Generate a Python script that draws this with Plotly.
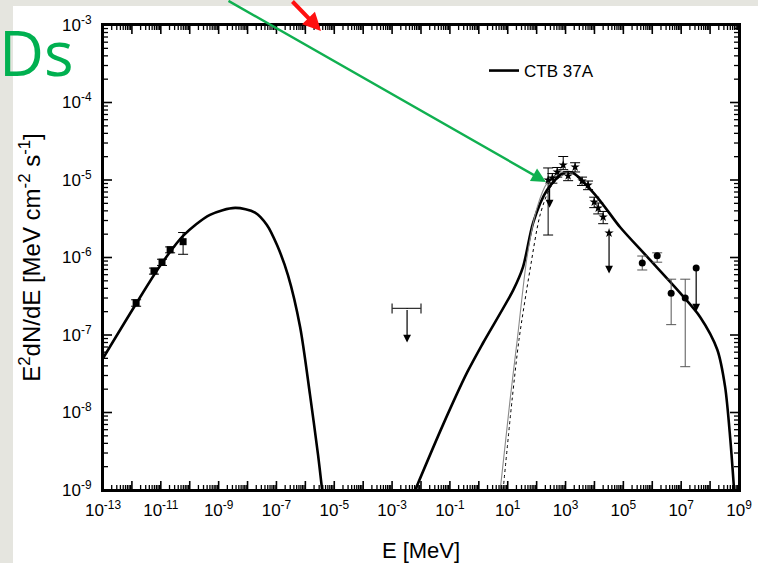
import numpy as np
import plotly.graph_objects as go

# ---- model curves (log10 E [MeV], log10 E^2 dN/dE) ----
sync_logE = [-13.0, -11.86, -11.03, -10.23, -9.30, -8.43, -7.74, -7.33, -6.98, -6.60, -6.18, -5.84, -5.56, -5.42]
sync_logF = [-7.30, -6.60, -6.11, -5.72, -5.45, -5.36, -5.42, -5.58, -5.84, -6.23, -6.90, -7.77, -8.55, -9.00]

ic_logE = [-2.20, -1.24, -0.40, 0.15, 1.19, 1.53, 1.88, 2.36, 2.92, 3.26, 4.09, 4.89, 5.82, 6.97, 7.66, 8.25, 8.52, 8.70, 8.83]
ic_logF = [-9.00, -8.16, -7.48, -7.10, -6.42, -6.12, -5.55, -5.13, -4.91, -4.91, -5.22, -5.61, -5.99, -6.46, -6.77, -7.19, -7.67, -8.35, -9.00]

pi_logE = [0.74, 1.08, 1.33, 1.67, 2.02, 2.36, 2.81, 3.26]
pi_logF = [-9.00, -7.84, -7.06, -5.99, -5.35, -5.04, -4.90, -4.91]

alt_logE = [0.84, 1.15, 1.39, 1.77, 2.12, 2.47, 2.88, 3.26]
alt_logF = [-9.00, -7.84, -7.06, -6.16, -5.45, -5.10, -4.94, -4.91]

# ---- radio / X-ray data ----
radio_E = [1.4e-12, 5.8e-12, 1.1e-11, 2.1e-11, 5.9e-11]
radio_F = [2.6e-7, 6.7e-7, 8.7e-7, 1.26e-6, 1.6e-6]
radio_hi = [0.25e-7, 0.6e-7, 0.8e-7, 1.1e-7, 0.5e-6]
radio_lo = [0.25e-7, 0.6e-7, 0.8e-7, 1.1e-7, 0.5e-6]

# ---- X-ray upper limit (band 1e-3 .. 1e-2 MeV) ----
xul_E = [3.3e-3]
xul_F = [2.2e-7]
xul_lo = [2.3e-3]
xul_hi = [6.7e-3]
xul_tip = [8.0e-8]

# ---- Fermi-LAT points ----
lat_E = [250, 350, 516, 830, 1230, 2140, 3720, 6000, 9800, 13500, 20000]
lat_F = [1.0e-5, 1.06e-5, 1.27e-5, 1.56e-5, 1.13e-5, 1.47e-5, 9.7e-6, 8.6e-6, 5.2e-6, 4.35e-6, 3.33e-6]
lat_hi = [0.43e-5, 0.15e-5, 0.18e-5, 0.45e-5, 0.15e-5, 0.2e-5, 1.2e-6, 1.1e-6, 0.8e-6, 0.7e-6, 0.6e-6]
lat_lo = [0.805e-5, 0.15e-5, 0.18e-5, 0.2e-5, 0.15e-5, 0.2e-5, 1.2e-6, 1.1e-6, 0.8e-6, 0.7e-6, 0.6e-6]

lat_ul_E = [280, 32000]
lat_ul_F = [9.1e-6, 2.07e-6]
lat_ul_tip = [4.4e-6, 6.2e-7]

# ---- HESS points ----
hess_E = [4.5e5, 1.48e6, 4.5e6, 1.38e7]
hess_F = [8.5e-7, 1.05e-6, 3.46e-7, 3.0e-7]
hess_hi = [1.95e-7, 0.1e-6, 1.79e-7, 2.25e-7]
hess_lo = [1.6e-7, 0.18e-6, 2.1e-7, 2.61e-7]
hess_ul_E = [3.3e7]
hess_ul_F = [7.3e-7]
hess_ul_tip = [2.0e-7]

# ---- axis ticks ----
x_decades = list(range(-13, 10))
y_decades = list(range(-9, -2))


def pow10(vals):
    return [10.0 ** v for v in vals]


fig = go.Figure()

# model curve: synchrotron + inverse Compton as one entry
curve_E = pow10(sync_logE) + [None] + pow10(ic_logE)
curve_F = pow10(sync_logF) + [None] + pow10(ic_logF)
fig.add_trace(go.Scatter(x=curve_E, y=curve_F, mode="lines", name="CTB 37A",
                         line=dict(color="black", width=2.6, shape="spline", smoothing=0.8),
                         connectgaps=False))
fig.add_trace(go.Scatter(x=pow10(pi_logE), y=pow10(pi_logF), mode="lines", showlegend=False,
                         line=dict(color="#8a8a8a", width=1.1, shape="spline", smoothing=0.8)))
fig.add_trace(go.Scatter(x=pow10(alt_logE), y=pow10(alt_logF), mode="lines", showlegend=False,
                         line=dict(color="black", width=1, dash="dot", shape="spline", smoothing=0.8)))

fig.add_trace(go.Scatter(x=radio_E, y=radio_F, mode="markers", showlegend=False,
                         marker=dict(symbol="square", size=7, color="black"),
                         error_y=dict(type="data", array=radio_hi, arrayminus=radio_lo,
                                      color="black", thickness=1, width=5)))

fig.add_trace(go.Scatter(x=xul_E, y=xul_F, mode="markers", showlegend=False,
                         marker=dict(size=1, color="black"),
                         error_x=dict(type="data", array=xul_hi, arrayminus=xul_lo,
                                      color="#333333", thickness=1.3, width=5)))

fig.add_trace(go.Scatter(x=lat_E, y=lat_F, mode="markers", showlegend=False,
                         marker=dict(symbol="star", size=7, color="black"),
                         error_y=dict(type="data", array=lat_hi, arrayminus=lat_lo,
                                      color="black", thickness=1, width=5)))

fig.add_trace(go.Scatter(x=hess_E, y=hess_F, mode="markers", showlegend=False,
                         marker=dict(symbol="circle", size=7, color="black"),
                         error_y=dict(type="data", array=hess_hi, arrayminus=hess_lo,
                                      color="#555555", thickness=1, width=5)))
fig.add_trace(go.Scatter(x=hess_ul_E, y=hess_ul_F, mode="markers", showlegend=False,
                         marker=dict(symbol="circle", size=7, color="black")))
fig.add_trace(go.Scatter(x=lat_ul_E[1:], y=lat_ul_F[1:], mode="markers", showlegend=False,
                         marker=dict(symbol="star", size=7, color="black")))

annotations = []
# upper-limit arrows
for e, f, t in zip(xul_E + lat_ul_E + hess_ul_E,
                   xul_F + lat_ul_F + hess_ul_F,
                   xul_tip + lat_ul_tip + hess_ul_tip):
    annotations.append(dict(x=np.log10(e), y=np.log10(t), ax=np.log10(e), ay=np.log10(f),
                            xref="x", yref="y", axref="x", ayref="y", text="",
                            showarrow=True, arrowhead=2, arrowsize=1.3, arrowwidth=1.2,
                            arrowcolor="black"))

L, R, T, B = 103, 19, 25, 73
W, H = 758, 563
pw, ph = W - L - R, H - T - B


def px(xp):
    return (xp - L) / pw


def py(yp):
    return (H - B - yp) / ph


# slide overlays
annotations.append(dict(x=px(-3), y=py(8), xref="paper", yref="paper", text="Ds",
                        showarrow=False, xanchor="left", yanchor="top",
                        font=dict(family="Open Sans", size=62, color="#00b050")))
annotations.append(dict(x=px(546), y=py(182), xref="paper", yref="paper", text="",
                        showarrow=True, ax=-319, ay=-183, axref="pixel", ayref="pixel",
                        arrowhead=2, arrowsize=1.2, arrowwidth=2.4, arrowcolor="#10b050"))
annotations.append(dict(x=px(321), y=py(31), xref="paper", yref="paper", text="",
                        showarrow=True, ax=-30, ay=-34, axref="pixel", ayref="pixel",
                        arrowhead=2, arrowsize=0.9, arrowwidth=4, arrowcolor="#ff1010"))

# grey slide margin strips (left and top) around the white figure sheet
slide_grey = "#e5e5df"
shapes = [
    dict(type="rect", xref="paper", yref="paper", x0=px(-5), x1=px(13),
         y0=py(H + 5), y1=py(-5), fillcolor=slide_grey, line=dict(width=0), layer="below"),
    dict(type="rect", xref="paper", yref="paper", x0=px(-5), x1=px(W + 5),
         y0=py(6), y1=py(-5), fillcolor=slide_grey, line=dict(width=0), layer="below"),
]

# inward tick marks on all four sides (major at decades, minor at 2..9)
MAJ, MIN = 9.0, 5.0
x_major = [10.0 ** n for n in x_decades]
x_minor = [k * 10.0 ** n for n in x_decades[:-1] for k in range(2, 10)]
y_major = [10.0 ** n for n in y_decades]
y_minor = [k * 10.0 ** n for n in y_decades[:-1] for k in range(2, 10)]

for vals, ln, wd in ((x_major, MAJ, 1.6), (x_minor, MIN, 1.3)):
    for v in vals:
        for y0, y1 in ((0, ln / ph), (1, 1 - ln / ph)):
            shapes.append(dict(type="line", xref="x", yref="paper", x0=v, x1=v, y0=y0, y1=y1,
                               line=dict(color="black", width=wd)))
for vals, ln, wd in ((y_major, MAJ, 1.6), (y_minor, MIN, 1.3)):
    for v in vals:
        for x0, x1 in ((0, ln / pw), (1, 1 - ln / pw)):
            shapes.append(dict(type="line", xref="paper", yref="y", x0=x0, x1=x1, y0=v, y1=v,
                               line=dict(color="black", width=wd)))

# plot frame
shapes.append(dict(type="rect", xref="paper", yref="paper", x0=0, x1=1, y0=0, y1=1,
                   line=dict(color="black", width=2), fillcolor="rgba(0,0,0,0)"))

font_family = "Liberation Sans, Arial"
tick_font = dict(family=font_family, size=17, color="black")

fig.update_layout(
    width=W, height=H,
    margin=dict(l=L, r=R, t=T, b=B, autoexpand=False),
    paper_bgcolor="white",
    plot_bgcolor="white",
    shapes=shapes,
    annotations=annotations,
    showlegend=True,
    legend=dict(x=px(484), y=py(53), xanchor="left", yanchor="top",
                bgcolor="rgba(0,0,0,0)", font=dict(family=font_family, size=17, color="black")),
    xaxis=dict(type="log", range=[-13, 9], showgrid=False, zeroline=False, automargin=False,
               showline=True, linecolor="black", linewidth=2, mirror=True,
               ticks="", ticklabelstandoff=4,
               tickmode="array", tickvals=[10.0 ** n for n in x_decades],
               ticktext=[("10<sup>%d</sup>" % n) if n % 2 else " " for n in x_decades],
               tickfont=tick_font,
               title=dict(text="E [MeV]", font=dict(family=font_family, size=22, color="black"),
                          standoff=25)),
    yaxis=dict(type="log", range=[-9, -3], showgrid=False, zeroline=False, automargin=False,
               showline=True, linecolor="black", linewidth=2, mirror=True,
               ticks="", ticklabelstandoff=6,
               tickmode="array", tickvals=[10.0 ** n for n in y_decades],
               ticktext=["10<sup>%d</sup>" % n for n in y_decades],
               tickfont=tick_font,
               title=dict(text="E<sup>2</sup>dN/dE [MeV cm<sup>-2</sup> s<sup>-1</sup>]",
                          font=dict(family=font_family, size=24, color="black"),
                          standoff=15)),
)

fig.write_html("out.html")
